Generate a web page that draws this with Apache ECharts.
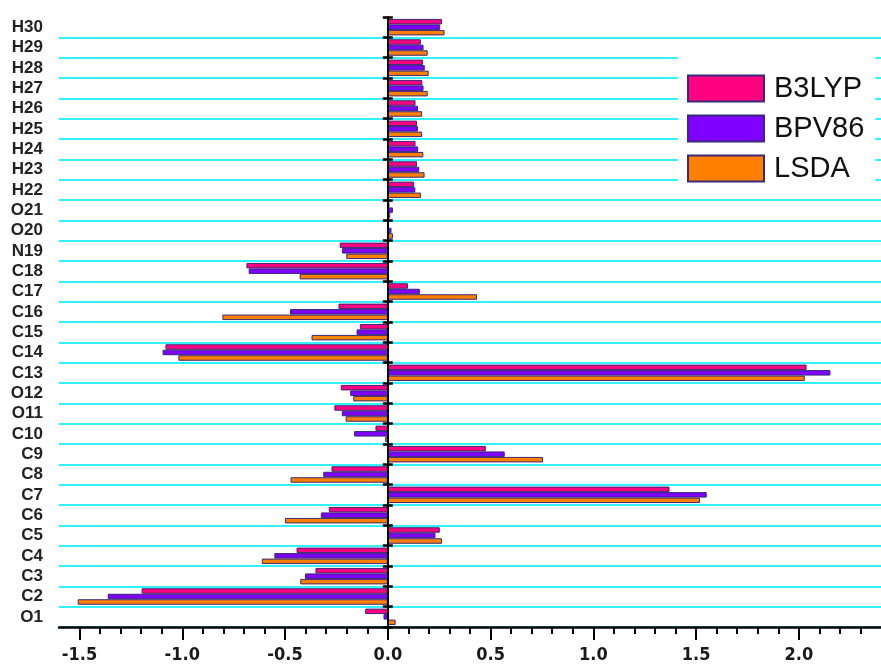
<!DOCTYPE html>
<html>
<head>
<meta charset="utf-8">
<script src="https://cdn.jsdelivr.net/npm/echarts@6/dist/echarts.min.js"></script>
<style>
html,body{margin:0;padding:0;background:#fff;}
#chart{width:881px;height:666px;}
</style>
</head>
<body>
<div id="chart"></div>
<script>
// ---- data ----
const categories = ['O1','C2','C3','C4','C5','C6','C7','C8','C9','C10','O11','O12','C13','C14','C15','C16','C17','C18','N19','O20','O21','H22','H23','H24','H25','H26','H27','H28','H29','H30'];
const b3lyp = [-0.110,-1.198,-0.352,-0.444,0.253,-0.287,1.371,-0.274,0.477,-0.060,-0.260,-0.229,2.038,-1.082,-0.136,-0.240,0.098,-0.688,-0.234,0.006,0.008,0.128,0.142,0.135,0.142,0.135,0.168,0.171,0.161,0.264];
const bpv86 = [-0.021,-1.363,-0.403,-0.552,0.232,-0.326,1.552,-0.314,0.569,-0.164,-0.224,-0.183,2.154,-1.096,-0.152,-0.476,0.156,-0.677,-0.223,0.018,0.025,0.134,0.153,0.148,0.147,0.147,0.174,0.180,0.174,0.255];
const lsda  = [0.038,-1.509,-0.426,-0.613,0.264,-0.500,1.519,-0.473,0.755,-0.013,-0.205,-0.168,2.029,-1.019,-0.371,-0.805,0.434,-0.429,-0.202,0.025,0.012,0.161,0.179,0.173,0.167,0.167,0.194,0.199,0.194,0.276];
const seriesNames = ['B3LYP','BPV86','LSDA'];
const majorTicks = [-1.5,-1.0,-0.5,0.0,0.5,1.0,1.5,2.0];
const minorTicks = [-1.4,-1.3,-1.2,-1.1,-0.9,-0.8,-0.7,-0.6,-0.4,-0.3,-0.2,-0.1,0.1,0.2,0.3,0.4,0.6,0.7,0.8,0.9,1.1,1.2,1.3,1.4,1.6,1.7,1.8,1.9,2.1,2.2,2.3];

function hasFont(name){
  const c=document.createElement('canvas').getContext('2d');
  const s='0.0-1.5abcXYZ';
  c.font='40px monospace'; const w1=c.measureText(s).width;
  c.font='40px "'+name+'", monospace'; const w2=c.measureText(s).width;
  return w1!==w2;
}
let xFont = {family:'"Liberation Sans", Arial, sans-serif', size:18};
if (hasFont('Liberation Sans Narrow')) xFont = {family:'"Liberation Sans Narrow"', size:21};
else if (hasFont('DejaVu Sans Condensed')) xFont = {family:'"DejaVu Sans Condensed"', size:18};

const colors = ['#ff0080','#8000ff','#ff8000'];
const border = '#3a2878';
const dataSets = [b3lyp, bpv86, lsda];

const chart = echarts.init(document.getElementById('chart'), null, {renderer:'canvas'});
const option = {
  animation:false,
  backgroundColor:'#ffffff',
  grid:{left:59, right:-3, top:17, bottom:39, containLabel:false},
  legend:{
    orient:'vertical', left:678, top:48,
    padding:[26,11,14,9],
    backgroundColor:'#ffffff',
    itemWidth:76, itemHeight:26, itemGap:11,
    icon:'rect',
    data:seriesNames,
    textStyle:{fontFamily:'"Liberation Sans", Arial, sans-serif', fontSize:29, lineHeight:26, color:'#111', padding:[0,0,0,5]}
  },
  xAxis:[
    {
      type:'value', min:-1.6, max:2.4, position:'bottom', z:10,
      axisLine:{show:true, lineStyle:{color:'#000', width:2.5}},
      axisTick:{show:true, customValues:majorTicks, length:13, lineStyle:{color:'#000', width:2}},
      axisLabel:{show:true, customValues:majorTicks, margin:19, formatter:v=>v.toFixed(1),
        fontFamily:xFont.family, fontSize:xFont.size, fontWeight:'bold', color:'#1a1a1a'},
      splitLine:{show:false}
    },
    {
      type:'value', min:-1.6, max:2.4, position:'bottom', z:10,
      axisLine:{show:false},
      axisTick:{show:true, customValues:minorTicks, length:7, lineStyle:{color:'#000', width:2}},
      axisLabel:{show:false},
      splitLine:{show:false}
    }
  ],
  yAxis:[
    {
      type:'category', data:categories, position:'left',
      axisLine:{show:false, onZero:false},
      axisTick:{show:false},
      axisLabel:{show:true, interval:0, margin:16, fontFamily:'"Liberation Sans", Arial, sans-serif', fontSize:17, fontWeight:'bold', color:'#222', padding:[0,0,3,0]},
      splitLine:{show:true, interval:0, showMaxLine:false, lineStyle:{color:'#33f2ff', width:2}}
    },
    {
      type:'category', data:categories, position:'left', z:10,
      axisLine:{show:true, onZero:true, lineStyle:{color:'#000', width:2}},
      axisTick:{show:true, interval:0, inside:true, length:5, lineStyle:{color:'#000', width:2.5}},
      axisLabel:{show:false},
      splitLine:{show:false}
    },
    {
      type:'category', data:categories, position:'left', z:10,
      axisLine:{show:false, onZero:true},
      axisTick:{show:true, interval:0, inside:false, length:5, lineStyle:{color:'#000', width:2.5}},
      axisLabel:{show:false},
      splitLine:{show:false}
    }
  ],
  series: seriesNames.map((name,i)=>({
    name:name, type:'bar', xAxisIndex:0, yAxisIndex:0,
    data:dataSets[i],
    barCategoryGap:'19%', barGap:'0%',
    itemStyle:{color:colors[i], borderColor:border, borderWidth:1}
  }))
};
chart.setOption(option);
</script>
</body>
</html>
